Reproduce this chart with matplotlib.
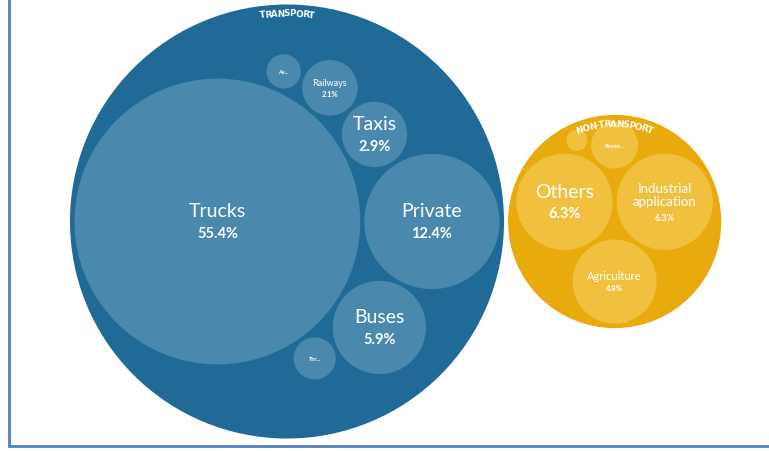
import numpy as np
import matplotlib
matplotlib.use('Agg')
import matplotlib.pyplot as plt
from matplotlib.patches import Circle
from matplotlib.font_manager import FontProperties, findfont

# 데이터 (점유율 %)
transport_labels = ['Trucks', 'Private', 'Buses', 'Taxis', 'Railways', 'Thr...', 'Av...']
transport_share = [55.4, 12.4, 5.9, 2.9, 2.1, 1.2, 0.8]

other_labels = ['Others', 'Industrial\napplication', 'Agriculture', 'Power...', '']
other_share = [6.3, 6.3, 4.8, 1.5, 0.3]

group_names = ['TRANSPORT', 'NON-TRANSPORT']

# 원 배치 순서: (접하는 원 a, 접하는 원 b, 방향)
transport_pack = [None, None, (0, 1, -1), (0, 1, 1), (0, 3, 1), (0, 2, -1), (0, 4, 1)]
other_pack = [None, None, (0, 1, -1), (0, 1, 1), (0, 3, 1)]

W, H, DPI = 769, 452, 100
K = 19.2      # 반지름 = K * sqrt(값)
GAP = 4       # 원 사이 간격
PAD = 4.5     # 부모 원 안쪽 여백

dark = ['#1f6a97', '#e9aa0d']
light = ['#4a88ad', '#f0c03e']

fam = 'DejaVu Sans'
for f in ['Liberation Sans Narrow', 'Lato', 'Open Sans']:
    try:
        findfont(FontProperties(family=f), fallback_to_default=False)
        fam = f
        break
    except Exception:
        pass
plt.rcParams['font.family'] = fam


def tangent(c1, r1, c2, r2, r, side):
    a = r1 + r + GAP
    b = r2 + r + GAP
    d = np.linalg.norm(c2 - c1)
    x = (a**2 - b**2 + d**2) / (2 * d)
    h = np.sqrt(max(a**2 - x**2, 0))
    u = (c2 - c1) / d
    n = np.array([-u[1], u[0]])
    return c1 + x * u + side * h * n


def pack(share, spec):
    r = K * np.sqrt(np.array(share))
    c = np.zeros((len(r), 2))
    c[1] = [r[0] + r[1] + GAP, 0]
    for i in range(2, len(r)):
        a, b, s = spec[i]
        c[i] = tangent(c[a], r[a], c[b], r[b], r[i], s)
    return c, r


def enclose(c, r):
    # 최소 외접원 (단순 패턴 탐색)
    p = c.mean(axis=0)
    f = lambda q: np.max(np.linalg.norm(c - q, axis=1) + r)
    step = 50.0
    while step > 0.01:
        best = p
        for dx, dy in [(1, 0), (-1, 0), (0, 1), (0, -1), (1, 1), (1, -1), (-1, 1), (-1, -1)]:
            q = p + step * np.array([dx, dy])
            if f(q) < f(best):
                best = q
        if best is p:
            step /= 2
        else:
            p = best
    return p, f(p)


def arc_text(ax, renderer, s, center, radius, size):
    # 글자를 하나씩 원호를 따라 배치
    prop = FontProperties(family='DejaVu Sans', size=size, weight='bold')
    widths = np.array([renderer.get_text_width_height_descent(ch, prop, ismath=False)[0] for ch in s])
    widths = widths * 0.9
    mids = np.cumsum(widths) - widths / 2
    total = widths.sum()
    for ch, mid in zip(s, mids):
        ang = np.pi / 2 + (total / 2 - mid) / radius
        x = center[0] + radius * np.cos(ang)
        y = center[1] + radius * np.sin(ang)
        ax.text(x, y, ch, fontproperties=prop, color='white', rotation=np.degrees(ang) - 90,
                ha='center', va='center', rotation_mode='anchor')


fig = plt.figure(figsize=(W / DPI, H / DPI), dpi=DPI)
ax = fig.add_axes([0, 0, 1, 1])
ax.set_xlim(0, W)
ax.set_ylim(0, H)
ax.axis('off')
renderer = fig.canvas.get_renderer()

groups = [(transport_labels, transport_share, transport_pack),
          (other_labels, other_share, other_pack)]

layouts = []
for labels, share, spec in groups:
    c, r = pack(share, spec)
    p, R = enclose(c, r)
    layouts.append((c - p, r, R + PAD))

origin = [np.array([287.0, 229.5])]
origin.append(origin[0] + [layouts[0][2] + GAP + layouts[1][2], 0])

name_size = {'Trucks': 14, 'Private': 14, 'Buses': 14, 'Taxis': 14, 'Others': 14,
             'Industrial\napplication': 9.5, 'Agriculture': 8, 'Railways': 6.5}
pct_size = {'Trucks': 10.5, 'Private': 10.5, 'Buses': 10.5, 'Taxis': 10.5, 'Others': 10.5,
            'Industrial\napplication': 6.5, 'Agriculture': 5.5, 'Railways': 5.5}

for g, ((labels, share, spec), (c, r, R)) in enumerate(zip(groups, layouts)):
    o = origin[g]
    ax.add_patch(Circle(o, R, color=dark[g], lw=0))
    for lab, v, ci, ri in zip(labels, share, c, r):
        pos = o + ci
        ax.add_patch(Circle(pos, ri, color=light[g], lw=0))
        if lab in name_size:
            ns, ps = name_size[lab], pct_size[lab]
            nl = lab.count('\n') + 1
            ax.text(pos[0], pos[1] + ns * 0.75, lab, color='white',
                    fontsize=ns, ha='center', va='center', linespacing=1.05)
            ax.text(pos[0], pos[1] - ps * 1.1 - ns * 0.85 * (nl - 1), f'{v}%', color='white',
                    fontsize=ps, ha='center', va='center', fontweight='bold')
        elif lab:
            ax.text(pos[0], pos[1], lab, color='white', fontsize=4, ha='center', va='center',
                    fontweight='bold')
    arc_text(ax, renderer, group_names[g], o, R - 8.5, 6.3)

# 테두리
ax.plot([9, 9, W], [H, 5, 5], color='#4f7fbf', lw=2, solid_joinstyle='miter')

fig.savefig('out.png', dpi=DPI)
